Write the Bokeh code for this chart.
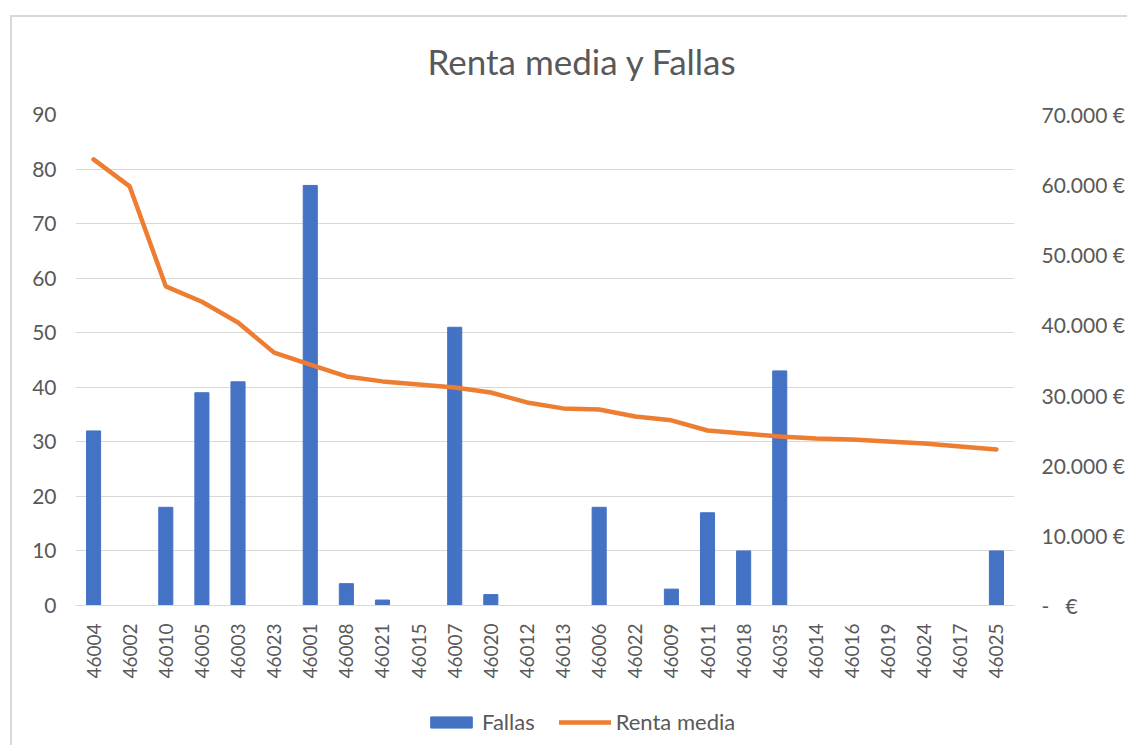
from bokeh.plotting import figure
from bokeh.models import (FactorRange, Range1d, LinearAxis, FixedTicker,
                          CustomJSTickFormatter, Legend, LegendItem)
from bokeh.embed import file_html
from bokeh.resources import INLINE
from math import pi

codigos = ["46004", "46002", "46010", "46005", "46003", "46023", "46001", "46008",
           "46021", "46015", "46007", "46020", "46012", "46013", "46006", "46022",
           "46009", "46011", "46018", "46035", "46014", "46016", "46019", "46024",
           "46017", "46025"]
fallas = [32, 0, 18, 39, 41, 0, 77, 4, 1, 0, 51, 2, 0, 0, 18, 0, 3, 17, 10, 43,
          0, 0, 0, 0, 0, 10]
renta_media = [63600, 59750, 45500, 43300, 40350, 36050, 34350, 32650, 31950,
               31500, 31080, 30370, 28950, 28100, 27950, 26950, 26400, 24950,
               24520, 24100, 23800, 23650, 23380, 23100, 22680, 22250]
ticks_fallas = [0, 10, 20, 30, 40, 50, 60, 70, 80, 90]
ticks_renta = [0, 10000, 20000, 30000, 40000, 50000, 60000, 70000]

FONT = "Lato"
GREY = "#595959"
GRID = "#D9D9D9"

# plot area: 491 px for the 0..90 span, plus 140 px of room below zero
# where the category labels and the legend sit
PLOT_H = 491
EXTRA_H = 140
F_MAX = 90
R_MAX = 70000
f_min = -F_MAX * EXTRA_H / PLOT_H
r_min = -R_MAX * EXTRA_H / PLOT_H

p = figure(x_range=FactorRange(factors=codigos, range_padding=0),
           y_range=Range1d(f_min, F_MAX), frame_width=939,
           frame_height=PLOT_H + EXTRA_H,
           output_backend="svg", toolbar_location=None,
           min_border_left=75, min_border_right=0, min_border_top=114,
           min_border_bottom=0, title="Renta media y Fallas")
p.styles = {"background": "linear-gradient(#D9D9D9,#D9D9D9) 10px 15px / 2px 100% no-repeat, "
                          "linear-gradient(#D9D9D9,#D9D9D9) 10px 15px / 100% 2px no-repeat, white"}
p.extra_y_ranges = {"renta": Range1d(r_min, R_MAX)}
p.outline_line_color = None
p.background_fill_color = "white"
p.border_fill_color = None

p.title.align = "left"
p.title.offset = 352
p.title.text_font = FONT
p.title.text_font_size = "35px"
p.title.text_font_style = "normal"
p.title.text_color = GREY
p.title.standoff = 66

bars = p.vbar(x=codigos, top=fallas, width=0.39, color="#4472C4")
line = p.line(x=codigos, y=renta_media, y_range_name="renta", color="#ED7D31",
              line_width=4.5, line_join="round", line_cap="round")

p.xgrid.grid_line_color = None
p.ygrid.grid_line_color = GRID
p.ygrid.grid_line_width = 1
p.ygrid.ticker = FixedTicker(ticks=ticks_fallas)

xa = p.xaxis[0]
xa.fixed_location = 0
xa.major_label_orientation = pi / 2
xa.axis_line_color = GRID
xa.axis_line_width = 1
xa.major_tick_line_color = None
xa.minor_tick_line_color = None
xa.major_label_standoff = 12
xa.major_label_text_font = FONT
xa.major_label_text_font_size = "19px"
xa.major_label_text_color = GREY

ya = p.yaxis[0]
ya.ticker = FixedTicker(ticks=ticks_fallas)
ya.axis_line_color = None
ya.major_tick_line_color = None
ya.minor_tick_line_color = None
ya.major_label_standoff = 13
ya.major_label_text_font = FONT
ya.major_label_text_font_size = "21px"
ya.major_label_text_color = GREY

ra = LinearAxis(y_range_name="renta", ticker=FixedTicker(ticks=ticks_renta))
ra.formatter = CustomJSTickFormatter(code="""
    if (tick == 0) { return "-\u00a0\u00a0\u00a0€"; }
    return (tick / 1000).toFixed(0) + ".000 €";
""")
ra.axis_line_color = None
ra.major_tick_line_color = None
ra.minor_tick_line_color = None
ra.major_label_standoff = 21
ra.major_label_text_font = FONT
ra.major_label_text_font_size = "21px"
ra.major_label_text_color = GREY
p.add_layout(ra, "right")

legend = Legend(items=[LegendItem(label="Fallas", renderers=[bars]),
                       LegendItem(label="Renta media", renderers=[line])],
                orientation="horizontal", location=(350, 10))
legend.label_text_font = FONT
legend.label_text_font_size = "22px"
legend.label_text_color = GREY
legend.glyph_width = 52
legend.glyph_height = 14
legend.label_standoff = 5
legend.spacing = 24
legend.border_line_color = None
legend.background_fill_alpha = 0
legend.padding = 0
legend.margin = 0
p.add_layout(legend, "center")

open("out.html", "w").write(file_html(p, INLINE))
